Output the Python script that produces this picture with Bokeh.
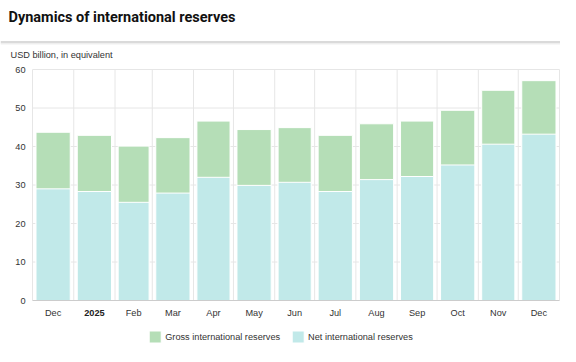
import pandas as pd
from bokeh.plotting import figure
from bokeh.models import (ColumnDataSource, Range1d, FixedTicker, CustomJSTickFormatter,
                          Legend, LegendItem, Label, BoxAnnotation)
from bokeh.embed import file_html
from bokeh.resources import INLINE

# ---- data ----
months = ["2024-12", "2025-01", "2025-02", "2025-03", "2025-04", "2025-05", "2025-06",
          "2025-07", "2025-08", "2025-09", "2025-10", "2025-11", "2025-12"]
tick_labels = ["Dec", "2025", "Feb", "Mar", "Apr", "May", "Jun",
               "Jul", "Aug", "Sep", "Oct", "Nov", "Dec"]
gross = [43.7, 42.9, 40.1, 42.3, 46.6, 44.4, 44.9, 42.9, 45.9, 46.6, 49.4, 54.6, 57.1]
net = [29.0, 28.3, 25.5, 27.9, 32.0, 29.9, 30.7, 28.3, 31.4, 32.2, 35.2, 40.6, 43.2]
series_names = ["Gross international reserves", "Net international reserves"]
y_ticks = [0, 10, 20, 30, 40, 50, 60]
title_text = "Dynamics of international reserves"
subtitle_text = "USD billion, in equivalent"
bold_label = "2025"

GREEN = "#b5deb7"
CYAN = "#c1e9e9"
GRID = "#e6e6e6"
FONT = "Liberation Sans"
FS = "9.2px"

# ---- month geometry (days from first month start) ----
starts = pd.to_datetime(months + ["2026-01"])
days = [(d - starts[0]).days for d in starts]
mids = [(days[i] + days[i + 1]) / 2 for i in range(len(months))]
lens = [days[i + 1] - days[i] for i in range(len(months))]
widths = [0.83 * L for L in lens]

# ---- layout (pixel targets inside the canvas) ----
W, H = 560, 346
PX_LEFT, PX_RIGHT = 32, 559     # plot area left/right
PX_TOP, PX_ZERO = 69, 300       # y = top tick, y = 0
ppu_y = (PX_ZERO - PX_TOP) / y_ticks[-1]
ppd_x = (PX_RIGHT - PX_LEFT) / days[-1]
y_lo = -(H - PX_ZERO) / ppu_y
y_hi = y_ticks[-1] + PX_TOP / ppu_y
x_lo = -PX_LEFT / ppd_x
x_hi = days[-1] + (W - PX_RIGHT) / ppd_x


def xd(px):
    return x_lo + px / ppd_x


def yd(py):
    return y_hi - py / ppu_y


src = ColumnDataSource(dict(x=mids, w=widths, gross=gross, net=net))

p = figure(width=W, height=H, toolbar_location=None, output_backend="svg", title=None,
           x_range=Range1d(x_lo, x_hi), y_range=Range1d(y_lo, y_hi),
           min_border=0, min_border_left=0, min_border_right=0,
           min_border_top=0, min_border_bottom=0,
           outline_line_color=None, background_fill_color="white",
           border_fill_color="white")
p.grid.visible = False

# header: title, separator, subtitle
p.add_layout(Label(x=xd(8), y=yd(17), text=title_text, text_font="Roboto",
                   text_font_size="14.5px", text_font_style="bold", text_color="#111111",
                   text_align="left", text_baseline="middle"))
p.add_layout(BoxAnnotation(top=yd(40.5), bottom=yd(43), fill_color="#dadada",
                           fill_alpha=1, line_color=None))
p.add_layout(BoxAnnotation(top=yd(43), bottom=yd(44), fill_color="#efefef",
                           fill_alpha=1, line_color=None))
p.add_layout(Label(x=xd(10), y=yd(54), text=subtitle_text, text_font=FONT,
                   text_font_size=FS, text_color="#333333",
                   text_align="left", text_baseline="middle"))

# grid lines within the plot area
p.segment(x0=days, x1=days, y0=[0] * len(days), y1=[y_ticks[-1]] * len(days),
          line_color=GRID, line_width=1)
p.segment(x0=[0] * (len(y_ticks) - 1), x1=[days[-1]] * (len(y_ticks) - 1),
          y0=y_ticks[1:], y1=y_ticks[1:], line_color=GRID, line_width=1)

g = p.vbar(x="x", width="w", top="gross", bottom=0, source=src,
           fill_color=GREEN, line_color="white", line_width=1)
n = p.vbar(x="x", width="w", top="net", bottom=0, source=src,
           fill_color=CYAN, line_color="white", line_width=1)

# x axis at y = 0
p.xaxis.fixed_location = 0
p.xaxis.bounds = (0, days[-1])
p.xaxis.ticker = FixedTicker(ticks=mids)
lab_map = {f"{m:g}": ("" if t == bold_label else t) for m, t in zip(mids, tick_labels)}
p.xaxis.formatter = CustomJSTickFormatter(
    args=dict(labels=lab_map),
    code="const k = String(tick); return (k in labels) ? labels[k] : '';")
p.xaxis.major_tick_line_color = None
p.xaxis.minor_tick_line_color = None
p.xaxis.major_tick_out = 0
p.xaxis.major_tick_in = 0
p.xaxis.axis_line_color = "#cccccc"
p.xaxis.major_label_text_font = FONT
p.xaxis.major_label_text_font_size = FS
p.xaxis.major_label_text_color = "#333333"
p.xaxis.major_label_standoff = 7

# y axis at day 0
p.yaxis.fixed_location = 0
p.yaxis.ticker = FixedTicker(ticks=y_ticks)
p.yaxis.major_tick_line_color = None
p.yaxis.minor_tick_line_color = None
p.yaxis.major_tick_out = 0
p.yaxis.major_tick_in = 0
p.yaxis.axis_line_color = None
p.yaxis.major_label_text_font = FONT
p.yaxis.major_label_text_font_size = FS
p.yaxis.major_label_text_color = "#333333"
p.yaxis.major_label_standoff = 7

# bold year tick label
for m, t in zip(mids, tick_labels):
    if t == bold_label:
        p.add_layout(Label(x=m, y=yd(312), text=t, text_align="center",
                           text_baseline="middle", text_font=FONT, text_font_size=FS,
                           text_font_style="bold", text_color="#222222"))

legend = Legend(items=[LegendItem(label=series_names[0], renderers=[g]),
                       LegendItem(label=series_names[1], renderers=[n])],
                orientation="horizontal", location="bottom_center",
                label_text_font=FONT, label_text_font_size=FS, label_text_color="#333333",
                glyph_width=15, glyph_height=15, label_height=15,
                label_standoff=3, spacing=10,
                border_line_color=None, background_fill_alpha=0, padding=0, margin=2)
p.add_layout(legend)

open("out.html", "w").write(file_html(p, INLINE))
